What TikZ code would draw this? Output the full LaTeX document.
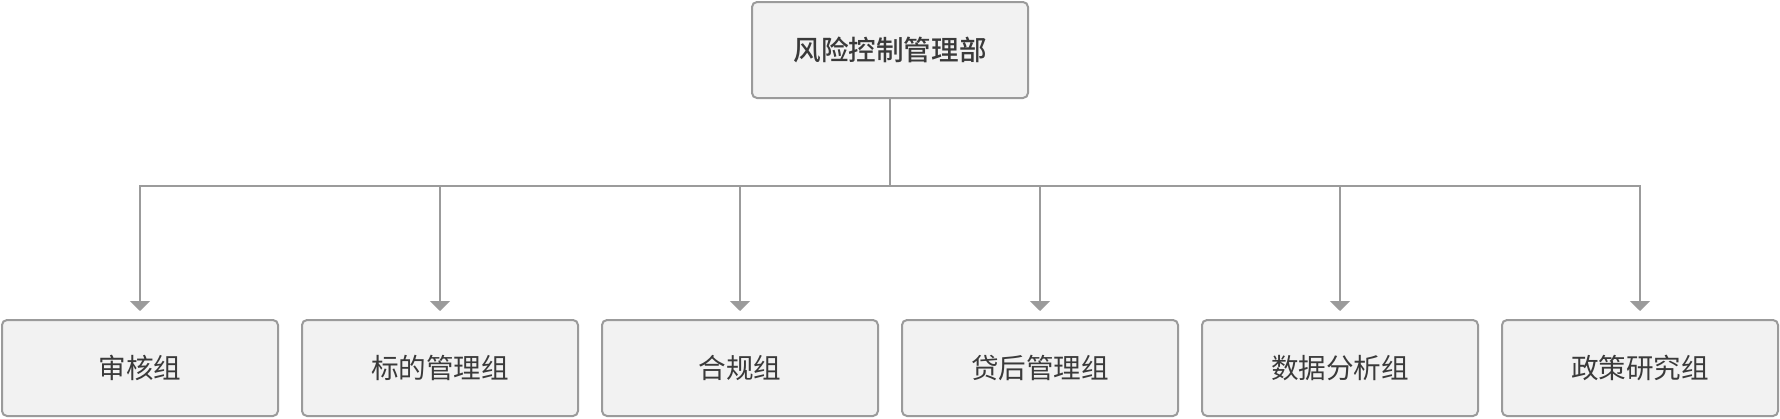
\documentclass[tikz,border=0pt]{standalone}
\usepackage{fontspec}
\newfontfamily\cjk{Noto Sans CJK SC}
\newfontfamily\cjkmed{Noto Sans CJK SC Medium}
\usetikzlibrary{arrows.meta}
\definecolor{boxfill}{HTML}{F2F2F2}
\definecolor{boxline}{HTML}{9B9B9B}
\definecolor{txt}{HTML}{3A3A3A}
\tikzset{
  orgbox/.style={draw=boxline, fill=boxfill, line width=2pt, rounded corners=5pt,
    minimum width=276pt, minimum height=96pt, inner sep=0pt, text=txt,
    font=\cjk\fontsize{27.6}{32}\selectfont},
  topbox/.style={orgbox, font=\cjkmed\fontsize{27.6}{32}\selectfont},
  link/.style={draw=boxline, line width=2pt},
  arrowlink/.style={link, -{Triangle[width=20pt,length=10pt]}, shorten >=8pt},
}
\begin{document}
\begin{tikzpicture}[x=1pt,y=-1pt]
\useasboundingbox (0,0) rectangle (1780,418);
\node[topbox] (top) at (890,50) {风险控制管理部};
\node[orgbox] (b1) at (140,368) {审核组};
\node[orgbox] (b2) at (440,368) {标的管理组};
\node[orgbox] (b3) at (740,368) {合规组};
\node[orgbox] (b4) at (1040,368) {贷后管理组};
\node[orgbox] (b5) at (1340,368) {数据分析组};
\node[orgbox] (b6) at (1640,368) {政策研究组};
\coordinate (hub) at (890,185.5);
\draw[link] (top.south) -- (hub);
\foreach \b in {b1,b2,b3,b4,b5,b6} {
  \draw[arrowlink] (hub) -| (\b.north);
}
\end{tikzpicture}
\end{document}
